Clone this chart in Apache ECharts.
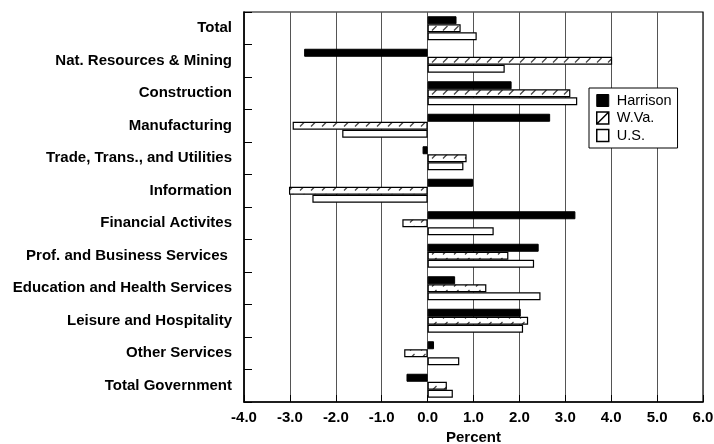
<!DOCTYPE html>
<html>
<head>
<meta charset="utf-8">
<script src="https://cdn.jsdelivr.net/npm/echarts@6/dist/echarts.min.js"></script>
<style>html,body{margin:0;padding:0;background:#fff}#c{width:714px;height:444px}</style>
</head>
<body>
<div id="c"></div>
<script>
var categories = ["Total", "Nat. Resources & Mining", "Construction", "Manufacturing", "Trade, Trans., and Utilities", "Information", "Financial Activites", "Prof. and Business Services ", "Education and Health Services", "Leisure and Hospitality", "Other Services", "Total Government"];
var harrison = [0.63, -2.69, 1.83, 2.67, -0.11, 0.99, 3.22, 2.42, 0.60, 2.03, 0.14, -0.46];
var wva = [0.72, 4.02, 3.11, -2.94, 0.85, -3.02, -0.55, 1.76, 1.28, 2.19, -0.51, 0.42];
var us = [1.07, 1.68, 3.26, -1.86, 0.78, -2.51, 1.44, 2.32, 2.46, 2.08, 0.69, 0.55];
var seriesNames = ["Harrison", "W.Va.", "U.S."];

var pc = document.createElement('canvas');
pc.width = 11; pc.height = 8;
var g = pc.getContext('2d');
g.fillStyle = '#fff'; g.fillRect(0, 0, 11, 8);
g.strokeStyle = '#444'; g.lineWidth = 1.3;
g.beginPath(); g.moveTo(3, 6.5); g.lineTo(7.5, 2); g.stroke();
var hatch = {image: pc, repeat: 'repeat'};

var font = 'Liberation Sans, Arial, sans-serif';
var chart = echarts.init(document.getElementById('c'), null, {renderer: 'canvas'});
chart.setOption({
  animation: false,
  backgroundColor: '#fff',
  grid: {left: 244, right: 11, top: 12, bottom: 42, containLabel: false, outerBoundsMode: 'none',
    show: true, borderColor: '#000', borderWidth: 1.2, backgroundColor: 'transparent'},
  legend: {
    orient: 'vertical', left: 589, top: 88, itemWidth: 12, itemHeight: 12, itemGap: 2.5,
    padding: [5, 6, 5, 7], borderColor: '#000', borderWidth: 1, backgroundColor: '#fff',
    textStyle: {fontFamily: font, fontSize: 14.5, color: '#000', padding: [0, 0, 0, 3]},
    data: [
      {name: seriesNames[0], icon: 'rect', itemStyle: {color: '#000', borderColor: '#000', borderWidth: 1}},
      {name: seriesNames[1], icon: 'path://M0,0L10,0L10,10L0,10Z M0,10L10,0', itemStyle: {color: '#fff', borderColor: '#000', borderWidth: 1.5}},
      {name: seriesNames[2], icon: 'rect', itemStyle: {color: '#fff', borderColor: '#000', borderWidth: 1.5}}
    ]
  },
  xAxis: {
    type: 'value', min: -4, max: 6, interval: 1,
    name: 'Percent', nameLocation: 'middle', nameGap: 27,
    nameTextStyle: {fontFamily: font, fontSize: 15, fontWeight: 'bold', color: '#000'},
    axisLine: {show: true, onZero: false, lineStyle: {color: '#000', width: 1.5}},
    axisTick: {show: true, inside: true, length: 7, lineStyle: {color: '#000'}},
    axisLabel: {fontFamily: font, fontSize: 15, fontWeight: 'bold', color: '#000', margin: 8,
      formatter: function (v) { return v.toFixed(1); }},
    splitLine: {show: true, lineStyle: {color: '#555', width: 1}}
  },
  yAxis: {
    type: 'category', data: categories, inverse: true,
    axisLine: {show: true, onZero: false, lineStyle: {color: '#000', width: 1.5}},
    axisTick: {show: true, inside: true, length: 8, lineStyle: {color: '#000'}},
    axisLabel: {fontFamily: font, fontSize: 15, fontWeight: 'bold', color: '#000', margin: 12},
    splitLine: {show: false}
  },
  series: [
    {name: seriesNames[0], type: 'bar', data: harrison, barWidth: 8, barGap: '0%',
      itemStyle: {color: '#000', borderColor: '#000', borderWidth: 1}},
    {name: seriesNames[1], type: 'bar', data: wva, barWidth: 8, barGap: '0%',
      itemStyle: {color: hatch, borderColor: '#000', borderWidth: 1.2}},
    {name: seriesNames[2], type: 'bar', data: us, barWidth: 8, barGap: '0%',
      itemStyle: {color: '#fff', borderColor: '#000', borderWidth: 1.2}}
  ]
});
</script>
</body>
</html>
